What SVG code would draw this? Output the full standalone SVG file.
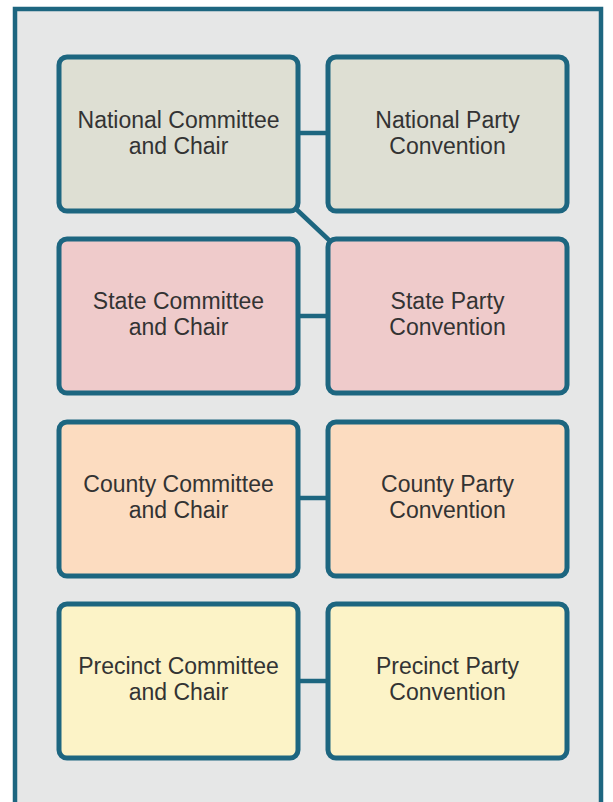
<svg xmlns="http://www.w3.org/2000/svg" width="613" height="802" viewBox="0 0 613 802">
<style>
.frame{fill:#e6e7e7;stroke:#1d6680;stroke-width:4.5}
.box{stroke:#1d6680;stroke-width:5}
.r1{fill:#dedfd3}
.r2{fill:#efcbcb}
.r3{fill:#fcdcc0}
.r4{fill:#fcf3c7}
.lbl{font-family:"Liberation Sans",Arial,sans-serif;font-size:23px;fill:#333333;text-anchor:middle}
.conn line{stroke:#1d6680;stroke-width:4.5;fill:none}
</style>
<rect class="frame" x="15" y="9" width="586" height="800"/>
<g id="connectors" class="conn">
<line x1="298" y1="133" x2="328" y2="133"/>
<line x1="295" y1="208" x2="330" y2="241"/>
<line x1="298" y1="316" x2="328" y2="316"/>
<line x1="298" y1="498" x2="328" y2="498"/>
<line x1="298" y1="681" x2="328" y2="681"/>
</g>
<g id="national-committee"><rect class="box r1" x="59" y="57" width="239" height="154" rx="8"/><text class="lbl" x="178.5" y="128">National Committee</text><text class="lbl" x="178.5" y="154">and Chair</text></g>
<g id="national-convention"><rect class="box r1" x="328" y="57" width="239" height="154" rx="8"/><text class="lbl" x="447.5" y="128">National Party</text><text class="lbl" x="447.5" y="154">Convention</text></g>
<g id="state-committee"><rect class="box r2" x="59" y="239" width="239" height="154" rx="8"/><text class="lbl" x="178.5" y="309">State Committee</text><text class="lbl" x="178.5" y="335">and Chair</text></g>
<g id="state-convention"><rect class="box r2" x="328" y="239" width="239" height="154" rx="8"/><text class="lbl" x="447.5" y="309">State Party</text><text class="lbl" x="447.5" y="335">Convention</text></g>
<g id="county-committee"><rect class="box r3" x="59" y="422" width="239" height="154" rx="8"/><text class="lbl" x="178.5" y="492">County Committee</text><text class="lbl" x="178.5" y="518">and Chair</text></g>
<g id="county-convention"><rect class="box r3" x="328" y="422" width="239" height="154" rx="8"/><text class="lbl" x="447.5" y="492">County Party</text><text class="lbl" x="447.5" y="518">Convention</text></g>
<g id="precinct-committee"><rect class="box r4" x="59" y="604" width="239" height="154" rx="8"/><text class="lbl" x="178.5" y="674">Precinct Committee</text><text class="lbl" x="178.5" y="700">and Chair</text></g>
<g id="precinct-convention"><rect class="box r4" x="328" y="604" width="239" height="154" rx="8"/><text class="lbl" x="447.5" y="674">Precinct Party</text><text class="lbl" x="447.5" y="700">Convention</text></g>
</svg>
